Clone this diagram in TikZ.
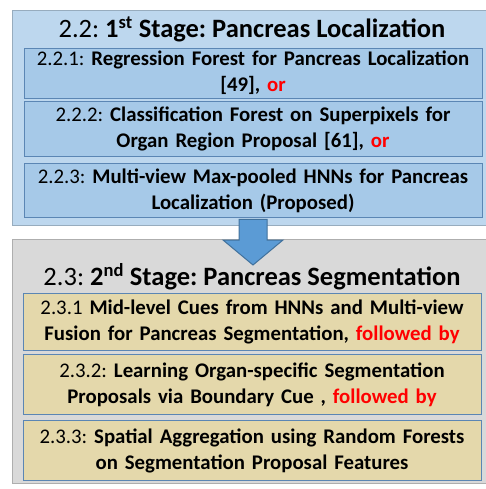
\documentclass[tikz,border=0pt]{standalone}
\usepackage{fontspec}
\setmainfont{Carlito}
\frenchspacing
\usetikzlibrary{positioning}

\definecolor{stageblue}{HTML}{BDD7EE}
\definecolor{stepblue}{HTML}{A6C9E8}
\definecolor{stagegray}{HTML}{D9D9D9}
\definecolor{steptan}{HTML}{E4D8AB}
\definecolor{edgeblue}{HTML}{5B86B4}
\definecolor{arrowblue}{HTML}{5B9BD5}
\definecolor{arrowedge}{HTML}{41719C}

\begin{document}
\begin{tikzpicture}[
  x=1pt, y=1pt,
  stage/.style={
    rectangle,
    draw=#1!80!black,
    fill=#1,
    line width=0.8pt
  },
  stagetitle/.style={
    font=\fontsize{26.5}{30}\selectfont,
    inner sep=0pt
  },
  substep/.style={
    rectangle,
    draw=edgeblue,
    fill=#1,
    line width=0.9pt,
    align=center,
    minimum width=458pt,
    text width=456pt,
    inner sep=0pt,
    font=\fontsize{20.8}{26}\selectfont
  }
]
\useasboundingbox (0,0) rectangle (485,-489);

% first stage
\draw[stage=stageblue] (12,-10) rectangle (488,-225);
\node[stagetitle] (loc) at (252,-29) {2.2: \textbf{1\textsuperscript{st} Stage: Pancreas Localization}};

\node[substep=stepblue, minimum height=50pt] (rf) at (253,-73)
  {2.2.1: \textbf{Regression Forest for Pancreas Localization}\\
   \textbf{[49], \textcolor{red}{or}}};
\node[substep=stepblue, minimum height=55pt, below=3pt of rf] (cf)
  {2.2.2: \textbf{Classification Forest on Superpixels for}\\
   \textbf{Organ Region Proposal [61], \textcolor{red}{or}}};
\node[substep=stepblue, minimum height=54pt, below=6pt of cf] (hnn)
  {2.2.3: \textbf{Multi-view Max-pooled HNNs for Pancreas}\\
   \textbf{Localization (Proposed)}};

% second stage
\draw[stage=stagegray] (12,-239) rectangle (488,-483);
\node[stagetitle] (seg) at (252,-277) {2.3: \textbf{2\textsuperscript{nd} Stage: Pancreas Segmentation}};

\node[substep=steptan, minimum height=57pt] (cue) at (252,-321.5)
  {2.3.1 \textbf{Mid-level Cues from HNNs and Multi-view}\\
   \textbf{Fusion for Pancreas Segmentation, \textcolor{red}{followed by}}};
\node[substep=steptan, minimum height=60pt, below=4pt of cue] (prop)
  {2.3.2: \textbf{Learning Organ-specific Segmentation}\\
   \textbf{Proposals via Boundary Cue , \textcolor{red}{followed by}}};
\node[substep=steptan, minimum height=60pt, below=5pt of prop] (agg)
  {2.3.3: \textbf{Spatial Aggregation using Random Forests}\\
   \textbf{on Segmentation Proposal Features}};

% block arrow between the stages
\coordinate (from) at ([yshift=-1pt]hnn.south);
\coordinate (to) at (from |- 0,-265);
\draw[arrowedge, fill=arrowblue, line width=1pt]
  ([xshift=-14pt]from) -- ([xshift=-14pt]from |- 0,-240)
  -- ([xshift=-30pt]from |- 0,-240) -- (to)
  -- ([xshift=30pt]from |- 0,-240) -- ([xshift=14pt]from |- 0,-240)
  -- ([xshift=14pt]from) -- cycle;

\end{tikzpicture}
\end{document}
